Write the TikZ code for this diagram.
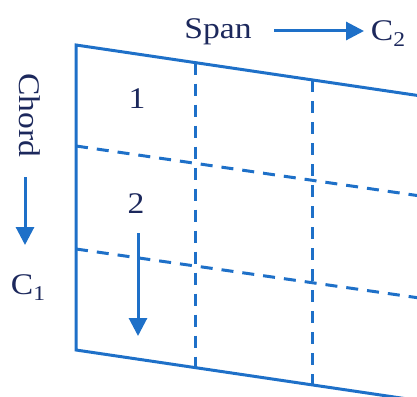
\documentclass[tikz,border=0pt]{standalone}
\usepackage{fontspec}
\setmainfont{Liberation Serif}[FakeStretch=1.12]
\usetikzlibrary{arrows.meta}
\definecolor{wblue}{RGB}{30,112,200}
\definecolor{tnavy}{RGB}{28,40,92}
\newcommand{\mysub}[1]{\raisebox{-6pt}{\fontsize{21}{22}\selectfont #1}}
\tikzset{
  edge/.style={draw=wblue, line width=3pt},
  grid/.style={draw=wblue, line width=3pt, dash pattern=on 12pt off 9pt},
  arr/.style={draw=wblue, line width=3pt, -{Triangle[length=18pt,width=18pt]}},
  lbl/.style={text=tnavy, font=\fontsize{30}{32}\selectfont, inner sep=0pt, anchor=base}
}
\begin{document}
\begin{tikzpicture}[x=1pt,y=-1pt]
\useasboundingbox (0,0) rectangle (417,396);
\clip (0,0) rectangle (417,396);
% corners
\coordinate (TL) at (76,45);
\coordinate (BL) at (76,350);
\coordinate (TR) at (430,97.3);
\coordinate (BR) at (430,402.3);
\coordinate (H1L) at (76,146);
\coordinate (H1R) at (430,197.4);
\coordinate (H2L) at (76,249);
\coordinate (H2R) at (430,299.5);
\coordinate (V1T) at (195,62.6);
\coordinate (V1B) at (195,367.6);
\coordinate (V2T) at (312,80);
\coordinate (V2B) at (312,385);
% grid
\path[grid] (H1L) -- (H1R);
\path[grid] (H2L) -- (H2R);
\path[grid] (V1T) -- (V1B);
\path[grid] (V2T) -- (V2B);
\path[edge] (TR) -- (TL) -- (BL) -- (BR);
% labels
\node[lbl] (span) at (218,38) {Span};
\node[lbl] (c2) at (388,41) {C\mysub{2}};
\node[lbl, rotate=-90, anchor=center] (chord) at (30,115) {Chord};
\node[lbl] (c1) at (28,294) {C\mysub{1}};
\node[lbl] (one) at (137,108) {1};
\node[lbl] (two) at (136,213) {2};
% arrows
\coordinate (a1s) at (274,31);
\coordinate (a1e) at (364,31);
\coordinate (a2s) at (25,177);
\coordinate (a2e) at (25,245);
\coordinate (a3s) at (138,233);
\coordinate (a3e) at (138,336);
\path[arr] (a1s) -- (a1e);
\path[arr] (a2s) -- (a2e);
\path[arr] (a3s) -- (a3e);
\end{tikzpicture}
\end{document}
